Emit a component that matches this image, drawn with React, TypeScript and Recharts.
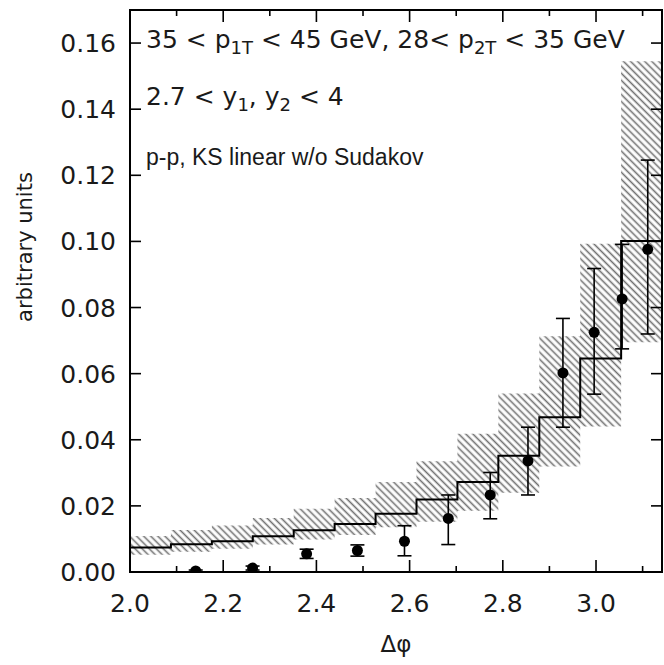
import React from 'react';
import { ComposedChart, Line, Area, Scatter, ErrorBar, XAxis, YAxis, ReferenceArea } from 'recharts';

// bin edges in delta phi (13 bins from 2 to pi)
const binEdges = [2.0, 2.0878, 2.1757, 2.2635, 2.3513, 2.4391, 2.527, 2.6148, 2.7026, 2.7904, 2.8783, 2.9661, 3.0539, 3.1416];
// theory histogram (central) and its hatched uncertainty band
const histValues = [0.0074, 0.0084, 0.0093, 0.0108, 0.0126, 0.0145, 0.0176, 0.0219, 0.0272, 0.0352, 0.0468, 0.0646, 0.1001];
const bandLow = [0.0052, 0.0061, 0.007, 0.0083, 0.0098, 0.0112, 0.0135, 0.0152, 0.0185, 0.024, 0.0319, 0.044, 0.0695];
const bandHigh = [0.0109, 0.0127, 0.0141, 0.0163, 0.0191, 0.0224, 0.0272, 0.0335, 0.0418, 0.054, 0.0713, 0.0993, 0.1545];

// data points with asymmetric error bars
const pointX = [2.141, 2.263, 2.379, 2.488, 2.589, 2.683, 2.773, 2.854, 2.929, 2.996, 3.056, 3.111];
const pointY = [0.0003, 0.0012, 0.0055, 0.0065, 0.0093, 0.0162, 0.0233, 0.0336, 0.0602, 0.0725, 0.0826, 0.0976];
const errLow = [0.0, 0.0006, 0.0041, 0.0048, 0.0049, 0.0083, 0.0161, 0.0233, 0.0438, 0.0538, 0.0675, 0.072];
const errHigh = [0.0006, 0.0018, 0.0069, 0.0082, 0.014, 0.0233, 0.0301, 0.0438, 0.0767, 0.0918, 0.0991, 0.1246];

const xTicks = [2.0, 2.1, 2.2, 2.3, 2.4, 2.5, 2.6, 2.7, 2.8, 2.9, 3.0, 3.1];
const xMajor = ['2.0', '2.2', '2.4', '2.6', '2.8', '3.0'];
const yTicks = [0, 0.02, 0.04, 0.06, 0.08, 0.1, 0.12, 0.14, 0.16];

const W = 664;
const H = 665;
const PLOT_TOP = 10;
const PLOT_RIGHT = 662;

const tickFont = '"DejaVu Sans", sans-serif';
const ink = '#1a1a1a';

const histData = binEdges.map((x, i) => {
  const k = Math.min(i, histValues.length - 1);
  return { x, hist: histValues[k], band: [bandLow[k], bandHigh[k]] };
});

const pointData = pointX.map((x, i) => ({
  x,
  y: pointY[i],
  err: [pointY[i] - errLow[i], errHigh[i] - pointY[i]],
}));

function XTick(props: any) {
  const { x, y, payload } = props;
  const label = payload.value.toFixed(1);
  const major = xMajor.includes(label);
  const len = major ? 12 : 6;
  return (
    <g>
      <line x1={x} y1={y} x2={x} y2={y - len} stroke="#000" strokeWidth={1.6} />
      <line x1={x} y1={PLOT_TOP} x2={x} y2={PLOT_TOP + len} stroke="#000" strokeWidth={1.6} />
      {major && (
        <text x={x} y={y + 40} textAnchor="middle" fontFamily={tickFont} fontSize={25} fill={ink}>
          {label}
        </text>
      )}
    </g>
  );
}

function YTick(props: any) {
  const { x, y, payload } = props;
  return (
    <g>
      <line x1={x} y1={y} x2={x + 11} y2={y} stroke="#000" strokeWidth={1.6} />
      <line x1={PLOT_RIGHT} y1={y} x2={PLOT_RIGHT - 11} y2={y} stroke="#000" strokeWidth={1.6} />
      <text x={x - 14} y={y + 9} textAnchor="end" fontFamily={tickFont} fontSize={25} fill={ink}>
        {payload.value.toFixed(2)}
      </text>
    </g>
  );
}

export default function App() {
  return (
    <div style={{ position: 'absolute', left: 0, top: 0, width: W, height: H }}>
      <ComposedChart width={W} height={H} data={histData} margin={{ top: 10, right: 2, left: 70, bottom: 63 }}>
        <XAxis
          type="number"
          dataKey="x"
          domain={[2, Math.PI]}
          ticks={xTicks}
          interval={0}
          allowDataOverflow
          axisLine={false}
          tickLine={false}
          tickSize={0}
          tickMargin={0}
          height={30}
          tick={<XTick />}
        />
        <YAxis
          type="number"
          dataKey="y"
          domain={[0, 0.17]}
          ticks={yTicks}
          interval={0}
          allowDataOverflow
          axisLine={false}
          tickLine={false}
          tickSize={0}
          tickMargin={0}
          width={60}
          tick={<YTick />}
        />
        <Area
          type="stepAfter"
          dataKey="band"
          stroke="none"
          fill="url(#hatch)"
          fillOpacity={1}
          isAnimationActive={false}
        />
        <Line
          type="stepAfter"
          dataKey="hist"
          stroke="#000"
          strokeWidth={2}
          dot={false}
          isAnimationActive={false}
        />
        <Scatter
          data={pointData}
          dataKey="y"
          fill="#000"
          isAnimationActive={false}
          shape={(p: any) => <circle cx={p.cx} cy={p.cy} r={5.5} fill="#000" />}
        >
          <ErrorBar dataKey="err" direction="y" width={7} stroke="#000" strokeWidth={1.6} isAnimationActive={false} />
        </Scatter>
        <ReferenceArea x1={2} x2={Math.PI} y1={0} y2={0.17} fill="none" stroke="#000" strokeWidth={2} ifOverflow="visible" />
      </ComposedChart>

      <svg width={W} height={H} style={{ position: 'absolute', left: 0, top: 0, pointerEvents: 'none' }}>
        <defs>
          <pattern id="hatch" patternUnits="userSpaceOnUse" width={5} height={5} patternTransform="rotate(45)">
            <line x1={0} y1={2.5} x2={5} y2={2.5} stroke="#707070" strokeWidth={1.6} />
          </pattern>
        </defs>
        <text x={146} y={48} fontFamily={tickFont} fontSize={25} fill={ink}>
          35 &lt; p<tspan fontSize={18} dy={6}>1T</tspan>
          <tspan dy={-6}> &lt; 45 GeV, 28&lt; p</tspan>
          <tspan fontSize={18} dy={6}>2T</tspan>
          <tspan dy={-6}> &lt; 35 GeV</tspan>
        </text>
        <text x={146} y={105} fontFamily={tickFont} fontSize={25} fill={ink}>
          2.7 &lt; y<tspan fontSize={18} dy={6}>1</tspan>
          <tspan dy={-6}>, y</tspan>
          <tspan fontSize={18} dy={6}>2</tspan>
          <tspan dy={-6}> &lt; 4</tspan>
        </text>
        <text x={146} y={165} fontFamily='"Liberation Sans", Arial, sans-serif' fontSize={23} fill={ink}>
          p-p, KS linear w/o Sudakov
        </text>
        <text
          x={0}
          y={0}
          transform="translate(32 247) rotate(-90)"
          textAnchor="middle"
          fontFamily={tickFont}
          fontSize={21}
          fill={ink}
        >
          arbitrary units
        </text>
        <text x={396} y={652} textAnchor="middle" fontFamily={tickFont} fontSize={23} fill={ink}>
          Δφ
        </text>
      </svg>
    </div>
  );
}
